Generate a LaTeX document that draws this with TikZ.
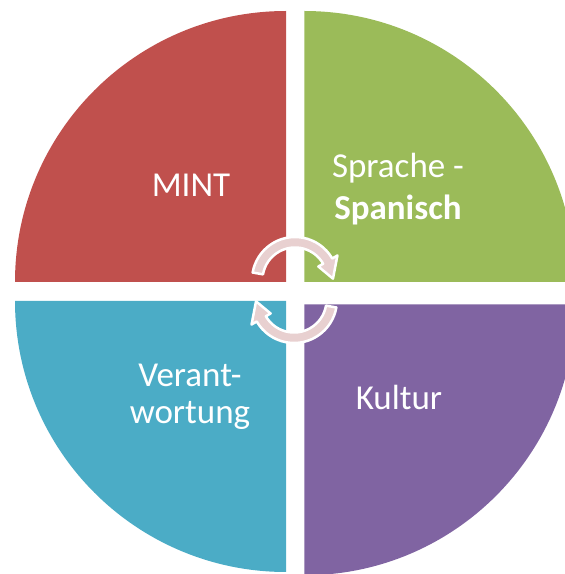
\documentclass[tikz,border=0pt]{standalone}
\usepackage{fontspec}
\setmainfont{Carlito}
\usetikzlibrary{calc}
\definecolor{mintred}{RGB}{192,80,77}
\definecolor{sprachegreen}{RGB}{155,187,89}
\definecolor{verantblue}{RGB}{75,172,198}
\definecolor{kulturpurple}{RGB}{128,100,162}
\definecolor{arrowpink}{RGB}{232,208,208}
\tikzset{
  segtext/.style={text=white, align=center, font=\fontsize{35}{42}\selectfont},
  cyclearrow/.style={fill=arrowpink, draw=white, line width=2.5pt, line join=round}
}
\begin{document}
\begin{tikzpicture}[x=1pt,y=1pt]
\useasboundingbox (0,0) rectangle (565,574);
\clip (0,0) rectangle (565,574);
% Set the radius of the quarters
\def\rad{271}

% Draw the four quarters
\fill[mintred] (286,292) -- (15,292) arc[start angle=180, end angle=90, radius=\rad] -- cycle;
\fill[sprachegreen] (304.3,292) -- (575.3,292) arc[start angle=0, end angle=90, radius=\rad] -- cycle;
\fill[verantblue] (286,273) -- (15,273) arc[start angle=180, end angle=270, radius=\rad] -- cycle;
\fill[kulturpurple] (304.3,269.7) -- (575.3,269.7) arc[start angle=0, end angle=-90, radius=\rad] -- cycle;

% Insert the labels (base is the last line)
\node[segtext, anchor=base] (mint) at (191,377.3) {MINT};
\node[segtext, anchor=base] (sprache) at (398,354) {Sprache -\\\textbf{Spanisch}};
\node[segtext, anchor=base, font=\fontsize{35}{37}\selectfont] (verant) at (190,150) {Verant-\\wortung};
\node[segtext, anchor=base] (kultur) at (399,164) {Kultur};

% Draw the cycle arrows in the middle
\coordinate (topc) at (295,294);
\coordinate (botc) at (294,274);
\filldraw[cyclearrow] ($(topc)+(170:43)$) arc[start angle=170, end angle=30, radius=43] -- ($(topc)+(30:49)$) -- ($(topc)+(2:38)$) -- ($(topc)+(30:27)$) -- ($(topc)+(30:32.5)$) arc[start angle=30, end angle=170, radius=32.5] -- cycle;
\filldraw[cyclearrow] ($(botc)+(350:43)$) arc[start angle=350, end angle=210, radius=43] -- ($(botc)+(210:49)$) -- ($(botc)+(182:38)$) -- ($(botc)+(210:27)$) -- ($(botc)+(210:32.5)$) arc[start angle=210, end angle=350, radius=32.5] -- cycle;
\end{tikzpicture}
\end{document}
